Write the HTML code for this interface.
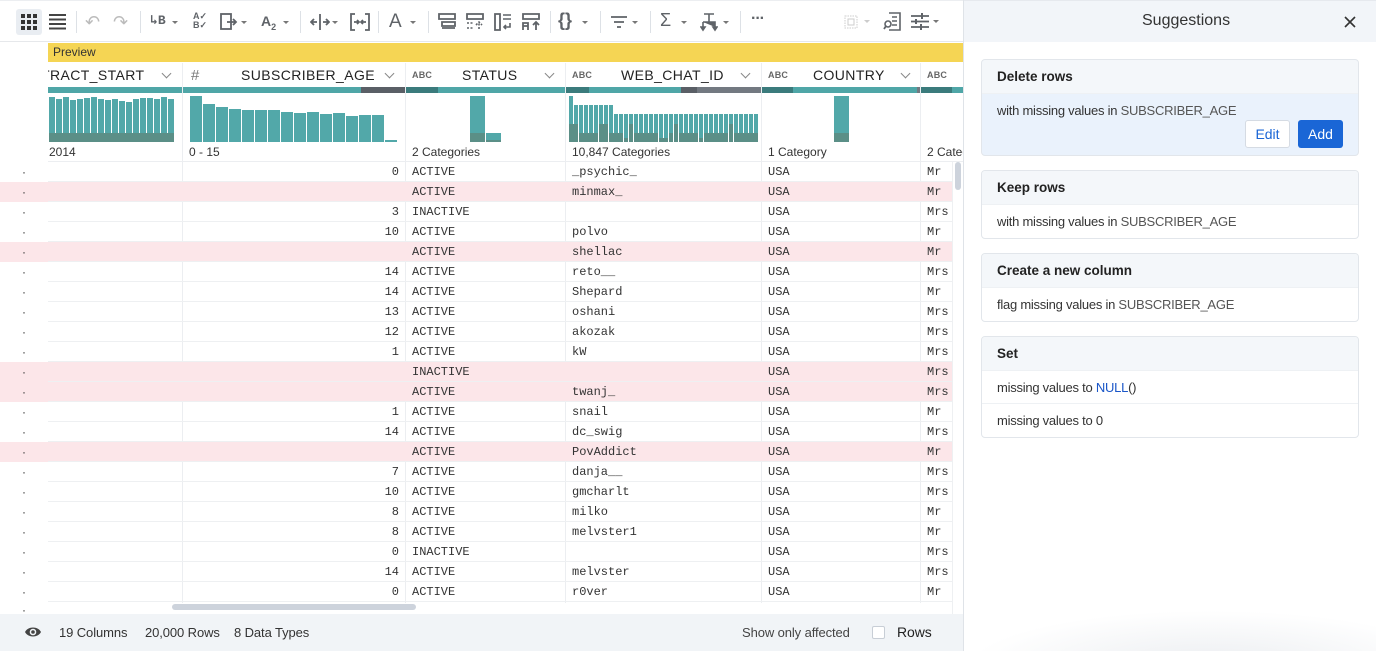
<!DOCTYPE html>
<html><head><meta charset="utf-8">
<style>
*{margin:0;padding:0;box-sizing:border-box}
body{width:1376px;height:651px;overflow:hidden;background:#fff;font-family:"Liberation Sans",sans-serif;position:relative;color:#222}
.a{position:absolute}
.ico{position:absolute;color:#5f6368;font-size:16px;line-height:16px}
.car{position:absolute;width:0;height:0;border-left:3px solid transparent;border-right:3px solid transparent;border-top:3px solid #777}
.sep{position:absolute;top:11px;width:1px;height:22px;background:#dde1e6}
.hdr{position:absolute;top:63px;height:24px;font-size:14px;line-height:24px;color:#222;white-space:nowrap;letter-spacing:0.4px}
.abc{position:absolute;top:70px;font-size:9px;font-weight:bold;color:#666;letter-spacing:0.2px}
.chev{position:absolute;top:70px;width:7px;height:7px;border-right:1.3px solid #888;border-bottom:1.3px solid #888;transform:rotate(45deg)}
.lbl{position:absolute;top:145px;font-size:12px;color:#333;white-space:nowrap}
.row{position:absolute;left:0;width:952px;height:20px}
.row::after{content:"";position:absolute;left:48px;right:0;bottom:0;height:1px;background:#eef0f2}
.row.p{background:#fce6e9}
.row span{position:absolute;top:0;line-height:20px;font-family:"Liberation Mono",monospace;font-size:12px;color:#333;white-space:nowrap}
.dot{left:22px;color:#777;font-family:"Liberation Sans",sans-serif!important}
.vl{position:absolute;top:63px;width:1px;height:540px;background:#eceef1}
.card{position:absolute;left:981px;width:378px;border:1px solid #e2e6eb;border-radius:4px;background:#fff;overflow:hidden}
.ch{height:34px;background:#f4f7fa;font-size:13.5px;font-weight:bold;color:#222;line-height:34px;padding-left:15px;border-bottom:1px solid #eef1f4}
.cb{height:33px;font-size:13px;letter-spacing:-0.25px;color:#333;line-height:33px;padding-left:15px}
.g{color:#555}
.ft{position:absolute;top:625px;font-size:13px;letter-spacing:-0.1px;color:#333;white-space:nowrap}
</style></head><body>

<!-- toolbar -->
<div class="a" style="left:0;top:0;width:963px;height:42px;background:#fff;border-bottom:1px solid #e6e8eb;border-top:1px solid #eceef1"></div>
<div class="a" style="left:16px;top:9px;width:26px;height:26px;background:#e9edf2;border-radius:3px"></div>
<svg class="a" style="left:21px;top:14px" width="16" height="16"><g fill="#333"><rect x="0" y="0" width="4" height="4"/><rect x="6" y="0" width="4" height="4"/><rect x="12" y="0" width="4" height="4"/><rect x="0" y="6" width="4" height="4"/><rect x="6" y="6" width="4" height="4"/><rect x="12" y="6" width="4" height="4"/><rect x="0" y="12" width="4" height="4"/><rect x="6" y="12" width="4" height="4"/><rect x="12" y="12" width="4" height="4"/></g></svg>
<svg class="a" style="left:49px;top:14px" width="17" height="16"><g fill="#444"><rect y="0" width="17" height="2"/><rect y="4.5" width="17" height="2"/><rect y="9" width="17" height="2"/><rect y="13.5" width="17" height="2"/></g></svg>
<div class="sep" style="left:76px"></div>
<div class="ico" style="left:85px;top:14px;color:#bbb;font-size:18px">&#8630;</div>
<div class="ico" style="left:113px;top:14px;color:#bbb;font-size:18px">&#8631;</div>
<div class="sep" style="left:140px"></div>
<div class="ico" style="left:150px;top:13px;font-size:13px;font-family:'Liberation Mono',monospace;font-weight:bold">&#8627;B</div><div class="car" style="left:172px;top:21px"></div>
<div class="ico" style="left:193px;top:12px;font-size:9px;line-height:9px;font-weight:bold">A&#10003;<br>B&#10003;</div>
<div class="ico" style="left:220px;top:13px"><svg width="18" height="18"><rect x="1" y="1" width="10" height="15" fill="none" stroke="#5f6368" stroke-width="1.8"/><path d="M7 9h9M13 6l3 3-3 3" fill="none" stroke="#5f6368" stroke-width="1.8"/></svg></div><div class="car" style="left:241px;top:21px"></div>
<div class="ico" style="left:261px;top:13px;font-size:14px;font-weight:bold">A<sub style="font-size:9px">2</sub></div><div class="car" style="left:283px;top:21px"></div>
<div class="sep" style="left:300px"></div>
<svg class="a" style="left:310px;top:13px" width="20" height="18"><path d="M10 1v16M1 9h6M13 9h6M4 6l-3 3 3 3M16 6l3 3-3 3" fill="none" stroke="#5f6368" stroke-width="1.8"/></svg><div class="car" style="left:332px;top:21px"></div>
<svg class="a" style="left:350px;top:13px" width="20" height="18"><path d="M5 1H1v16h4M15 1h4v16h-4M4 9h5M7 7l2 2-2 2M16 9h-5M13 7l-2 2 2 2" fill="none" stroke="#5f6368" stroke-width="1.8"/></svg>
<div class="sep" style="left:378px"></div>
<div class="ico" style="left:389px;top:12px;font-size:19px;line-height:19px">A</div><div class="car" style="left:410px;top:21px"></div>
<div class="sep" style="left:428px"></div>
<svg class="a" style="left:438px;top:13px" width="18" height="18"><path d="M1 1h16v5H1zM4 9h13v4H4zM4 15h13" fill="none" stroke="#5f6368" stroke-width="1.8"/></svg>
<svg class="a" style="left:466px;top:13px" width="18" height="18"><path d="M1 1h16v5H1z" fill="none" stroke="#5f6368" stroke-width="1.8"/><path d="M1 10h7M1 15h7M13 16V9M10 12l3-3 3 3" fill="none" stroke="#5f6368" stroke-width="1.6" stroke-dasharray="2 1.5"/></svg>
<svg class="a" style="left:494px;top:13px" width="18" height="18"><path d="M1 1h5v16H1z" fill="none" stroke="#5f6368" stroke-width="1.8"/><path d="M9 2h8M9 6h8M16 10v4h-6M12 12l-2 2 2 2" fill="none" stroke="#5f6368" stroke-width="1.6"/></svg>
<svg class="a" style="left:522px;top:13px" width="18" height="18"><path d="M1 1h16v5H1zM1 17v-7h5v7M1 13h5M14 17V9M11 12l3-3 3 3" fill="none" stroke="#5f6368" stroke-width="1.8"/></svg>
<div class="sep" style="left:550px"></div>
<div class="ico" style="left:558px;top:12px;font-size:18px;font-weight:bold">{}</div><div class="car" style="left:582px;top:21px"></div>
<div class="sep" style="left:600px"></div>
<svg class="a" style="left:610px;top:15px" width="18" height="14"><path d="M1 2h16M4 7h10M7 12h4" stroke="#5f6368" stroke-width="1.8"/></svg><div class="car" style="left:632px;top:21px"></div>
<div class="sep" style="left:650px"></div>
<div class="ico" style="left:660px;top:12px;font-size:18px">&#931;</div><div class="car" style="left:681px;top:21px"></div>
<svg class="a" style="left:700px;top:12px" width="18" height="20"><path d="M4 2h10M9 2v8M3 10h12v5M3 10v5M3 18l-2-3h4zM15 18l-2-3h4z" fill="#5f6368" stroke="#5f6368" stroke-width="1.6"/></svg><div class="car" style="left:723px;top:21px"></div>
<div class="sep" style="left:740px"></div>
<div class="ico" style="left:751px;top:11px;font-size:16px;font-weight:bold;letter-spacing:-1px">&middot;&middot;&middot;</div>
<svg class="a" style="left:844px;top:15px" width="14" height="14"><rect x="1" y="1" width="12" height="12" fill="none" stroke="#ccc" stroke-dasharray="1.5 1"/><rect x="4" y="4" width="6" height="6" fill="none" stroke="#ccc"/></svg><div class="car" style="left:864px;top:20px;border-top-color:#ccc"></div>
<svg class="a" style="left:883px;top:12px" width="18" height="19"><path d="M6 1h11v17H6M9 5h5M9 9h5M9 13h5" fill="none" stroke="#5f6368" stroke-width="1.6"/><circle cx="5" cy="12" r="3" fill="none" stroke="#5f6368" stroke-width="1.6"/><path d="M3 14l-2 3" stroke="#5f6368" stroke-width="1.8"/></svg>
<svg class="a" style="left:910px;top:13px" width="20" height="17"><path d="M1 3h18M1 8.5h18M1 14h18" stroke="#5f6368" stroke-width="1.8"/><path d="M12 0v6M6 6v5M11 11v6" stroke="#5f6368" stroke-width="2"/></svg><div class="car" style="left:933px;top:20px"></div>

<!-- preview bar -->
<div class="a" style="left:48px;top:43px;width:915px;height:19px;background:#f5d554;font-size:12px;line-height:19px;padding-left:5px;color:#333">Preview</div>

<!-- column dividers -->
<div class="vl" style="left:182px"></div>
<div class="vl" style="left:405px"></div>
<div class="vl" style="left:565px"></div>
<div class="vl" style="left:761px"></div>
<div class="vl" style="left:920px"></div>

<!-- headers -->
<div class="a" style="left:48px;top:63px;width:134px;height:24px;overflow:hidden"><div class="hdr" style="left:-7px;top:0">TRACT_START</div></div>
<div class="chev" style="left:163px"></div>
<div class="ico" style="left:191px;top:68px;font-size:15px;color:#777">#</div>
<div class="hdr" style="left:241px">SUBSCRIBER_AGE</div>
<div class="chev" style="left:386px"></div>
<div class="abc" style="left:412px">ABC</div>
<div class="hdr" style="left:462px">STATUS</div>
<div class="chev" style="left:546px"></div>
<div class="abc" style="left:572px">ABC</div>
<div class="hdr" style="left:621px">WEB_CHAT_ID</div>
<div class="chev" style="left:742px"></div>
<div class="abc" style="left:768px">ABC</div>
<div class="hdr" style="left:813px">COUNTRY</div>
<div class="chev" style="left:902px"></div>
<div class="abc" style="left:927px">ABC</div>

<!-- quality bars -->
<svg class="a" style="left:0;top:87px" width="963" height="7">
<rect x="48" y="0" width="134" height="6" fill="#4fa6a7"/>
<rect x="183" y="0" width="178" height="6" fill="#4fa6a7"/>
<rect x="361" y="0" width="44" height="6" fill="#5a5f66"/>
<rect x="406" y="0" width="32" height="6" fill="#3b7b7c"/>
<rect x="438" y="0" width="127" height="6" fill="#4fa6a7"/>
<rect x="566" y="0" width="23" height="6" fill="#3b7b7c"/>
<rect x="589" y="0" width="92" height="6" fill="#4fa6a7"/>
<rect x="681" y="0" width="16" height="6" fill="#5a5f66"/>
<rect x="697" y="0" width="64" height="6" fill="#737981"/>
<rect x="762" y="0" width="31" height="6" fill="#3b7b7c"/>
<rect x="793" y="0" width="124" height="6" fill="#4fa6a7"/>
<rect x="917" y="0" width="3" height="6" fill="#737981"/>
<rect x="921" y="0" width="31" height="6" fill="#3b7b7c"/>
<rect x="952" y="0" width="11" height="6" fill="#4fa6a7"/>
</svg>

<!-- histograms -->
<svg class="a" style="left:0;top:0" width="963" height="162">
<g fill="#52a8a9">
<rect x="49" y="97" width="6" height="45"/><rect x="56" y="99" width="6" height="43"/><rect x="63" y="97" width="6" height="45"/><rect x="70" y="100" width="6" height="42"/><rect x="77" y="99" width="6" height="43"/><rect x="84" y="98" width="6" height="44"/><rect x="91" y="97" width="6" height="45"/><rect x="98" y="99" width="6" height="43"/><rect x="105" y="100" width="6" height="42"/><rect x="112" y="99" width="6" height="43"/><rect x="119" y="101" width="6" height="41"/><rect x="126" y="102" width="6" height="40"/><rect x="133" y="99" width="6" height="43"/><rect x="140" y="98" width="6" height="44"/><rect x="147" y="98" width="6" height="44"/><rect x="154" y="99" width="6" height="43"/><rect x="161" y="97" width="6" height="45"/><rect x="168" y="99" width="6" height="43"/>
<rect x="190" y="96" width="12" height="46"/><rect x="203" y="104" width="12" height="38"/><rect x="216" y="107" width="12" height="35"/><rect x="229" y="109" width="12" height="33"/><rect x="242" y="110" width="12" height="32"/><rect x="255" y="110" width="12" height="32"/><rect x="268" y="110" width="12" height="32"/><rect x="281" y="112" width="12" height="30"/><rect x="294" y="113" width="12" height="29"/><rect x="307" y="112" width="12" height="30"/><rect x="320" y="114" width="12" height="28"/><rect x="333" y="113" width="12" height="29"/><rect x="346" y="116" width="12" height="26"/><rect x="359" y="115" width="12" height="27"/><rect x="372" y="115" width="12" height="27"/><rect x="385" y="140" width="12" height="2"/>
<rect x="470" y="96" width="15" height="46"/><rect x="486" y="133" width="15" height="9"/>
<rect x="834" y="96" width="15" height="46"/>
</g>
<g fill="#5b8f87">
<rect x="49" y="133" width="125" height="9"/>
<rect x="470" y="133" width="15" height="9"/><rect x="486" y="140" width="15" height="2"/>
<rect x="834" y="133" width="15" height="9"/>
</g>
<g fill="#52a8a9">
<rect x="569" y="96" width="4" height="46"/>
<rect x="574" y="105" width="4" height="37"/><rect x="579" y="105" width="4" height="37"/><rect x="584" y="105" width="4" height="37"/><rect x="589" y="105" width="4" height="37"/><rect x="594" y="105" width="4" height="37"/><rect x="599" y="105" width="4" height="37"/><rect x="604" y="105" width="4" height="37"/><rect x="609" y="105" width="4" height="37"/>
<rect x="614" y="114" width="4" height="28"/><rect x="619" y="114" width="4" height="28"/><rect x="624" y="114" width="4" height="28"/><rect x="629" y="114" width="4" height="28"/><rect x="634" y="114" width="4" height="28"/><rect x="639" y="114" width="4" height="28"/><rect x="644" y="114" width="4" height="28"/><rect x="649" y="114" width="4" height="28"/><rect x="654" y="114" width="4" height="28"/><rect x="659" y="114" width="4" height="28"/><rect x="664" y="114" width="4" height="28"/><rect x="669" y="114" width="4" height="28"/><rect x="674" y="114" width="4" height="28"/><rect x="679" y="114" width="4" height="28"/><rect x="684" y="114" width="4" height="28"/><rect x="689" y="114" width="4" height="28"/><rect x="694" y="114" width="4" height="28"/><rect x="699" y="114" width="4" height="28"/><rect x="704" y="114" width="4" height="28"/><rect x="709" y="114" width="4" height="28"/><rect x="714" y="114" width="4" height="28"/><rect x="719" y="114" width="4" height="28"/><rect x="724" y="114" width="4" height="28"/><rect x="729" y="114" width="4" height="28"/><rect x="734" y="114" width="4" height="28"/><rect x="739" y="114" width="4" height="28"/><rect x="744" y="114" width="4" height="28"/><rect x="749" y="114" width="4" height="28"/><rect x="754" y="114" width="4" height="28"/>
</g>
<g fill="#5b8f87">
<rect x="569" y="124" width="9" height="18"/><rect x="579" y="133" width="19" height="9"/><rect x="599" y="124" width="9" height="18"/><rect x="609" y="133" width="14" height="9"/><rect x="624" y="138" width="4" height="4"/><rect x="629" y="124" width="4" height="18"/><rect x="634" y="133" width="24" height="9"/><rect x="659" y="138" width="9" height="4"/><rect x="669" y="133" width="4" height="9"/><rect x="674" y="124" width="4" height="18"/><rect x="679" y="133" width="19" height="9"/><rect x="699" y="138" width="4" height="4"/><rect x="704" y="133" width="24" height="9"/><rect x="729" y="124" width="4" height="18"/><rect x="734" y="133" width="24" height="9"/>
</g>
<line x1="48" y1="161.5" x2="963" y2="161.5" stroke="#eceef1"/>
</svg>

<!-- histogram labels -->
<div class="lbl" style="left:49px">2014</div>
<div class="lbl" style="left:189px">0 - 15</div>
<div class="lbl" style="left:412px">2 Categories</div>
<div class="lbl" style="left:572px">10,847 Categories</div>
<div class="lbl" style="left:768px">1 Category</div>
<div class="a" style="left:921px;top:145px;width:42px;overflow:hidden;font-size:12px;color:#333;white-space:nowrap;padding-left:6px">2 Categories</div>

<!-- rows -->
<div class="a" style="left:0;top:162px;width:952px;height:452px;overflow:hidden">
<div class="row" style="top:0"><span class="dot">·</span><span style="right:553px">0</span><span style="left:412px">ACTIVE</span><span style="left:572px">_psychic_</span><span style="left:768px">USA</span><span style="left:927px">Mr</span></div>
<div class="row p" style="top:20px"><span class="dot">·</span><span style="left:412px">ACTIVE</span><span style="left:572px">minmax_</span><span style="left:768px">USA</span><span style="left:927px">Mr</span></div>
<div class="row" style="top:40px"><span class="dot">·</span><span style="right:553px">3</span><span style="left:412px">INACTIVE</span><span style="left:768px">USA</span><span style="left:927px">Mrs</span></div>
<div class="row" style="top:60px"><span class="dot">·</span><span style="right:553px">10</span><span style="left:412px">ACTIVE</span><span style="left:572px">polvo</span><span style="left:768px">USA</span><span style="left:927px">Mr</span></div>
<div class="row p" style="top:80px"><span class="dot">·</span><span style="left:412px">ACTIVE</span><span style="left:572px">shellac</span><span style="left:768px">USA</span><span style="left:927px">Mr</span></div>
<div class="row" style="top:100px"><span class="dot">·</span><span style="right:553px">14</span><span style="left:412px">ACTIVE</span><span style="left:572px">reto__</span><span style="left:768px">USA</span><span style="left:927px">Mrs</span></div>
<div class="row" style="top:120px"><span class="dot">·</span><span style="right:553px">14</span><span style="left:412px">ACTIVE</span><span style="left:572px">Shepard</span><span style="left:768px">USA</span><span style="left:927px">Mr</span></div>
<div class="row" style="top:140px"><span class="dot">·</span><span style="right:553px">13</span><span style="left:412px">ACTIVE</span><span style="left:572px">oshani</span><span style="left:768px">USA</span><span style="left:927px">Mrs</span></div>
<div class="row" style="top:160px"><span class="dot">·</span><span style="right:553px">12</span><span style="left:412px">ACTIVE</span><span style="left:572px">akozak</span><span style="left:768px">USA</span><span style="left:927px">Mrs</span></div>
<div class="row" style="top:180px"><span class="dot">·</span><span style="right:553px">1</span><span style="left:412px">ACTIVE</span><span style="left:572px">kW</span><span style="left:768px">USA</span><span style="left:927px">Mrs</span></div>
<div class="row p" style="top:200px"><span class="dot">·</span><span style="left:412px">INACTIVE</span><span style="left:768px">USA</span><span style="left:927px">Mrs</span></div>
<div class="row p" style="top:220px"><span class="dot">·</span><span style="left:412px">ACTIVE</span><span style="left:572px">twanj_</span><span style="left:768px">USA</span><span style="left:927px">Mrs</span></div>
<div class="row" style="top:240px"><span class="dot">·</span><span style="right:553px">1</span><span style="left:412px">ACTIVE</span><span style="left:572px">snail</span><span style="left:768px">USA</span><span style="left:927px">Mr</span></div>
<div class="row" style="top:260px"><span class="dot">·</span><span style="right:553px">14</span><span style="left:412px">ACTIVE</span><span style="left:572px">dc_swig</span><span style="left:768px">USA</span><span style="left:927px">Mrs</span></div>
<div class="row p" style="top:280px"><span class="dot">·</span><span style="left:412px">ACTIVE</span><span style="left:572px">PovAddict</span><span style="left:768px">USA</span><span style="left:927px">Mr</span></div>
<div class="row" style="top:300px"><span class="dot">·</span><span style="right:553px">7</span><span style="left:412px">ACTIVE</span><span style="left:572px">danja__</span><span style="left:768px">USA</span><span style="left:927px">Mrs</span></div>
<div class="row" style="top:320px"><span class="dot">·</span><span style="right:553px">10</span><span style="left:412px">ACTIVE</span><span style="left:572px">gmcharlt</span><span style="left:768px">USA</span><span style="left:927px">Mrs</span></div>
<div class="row" style="top:340px"><span class="dot">·</span><span style="right:553px">8</span><span style="left:412px">ACTIVE</span><span style="left:572px">milko</span><span style="left:768px">USA</span><span style="left:927px">Mr</span></div>
<div class="row" style="top:360px"><span class="dot">·</span><span style="right:553px">8</span><span style="left:412px">ACTIVE</span><span style="left:572px">melvster1</span><span style="left:768px">USA</span><span style="left:927px">Mr</span></div>
<div class="row" style="top:380px"><span class="dot">·</span><span style="right:553px">0</span><span style="left:412px">INACTIVE</span><span style="left:768px">USA</span><span style="left:927px">Mrs</span></div>
<div class="row" style="top:400px"><span class="dot">·</span><span style="right:553px">14</span><span style="left:412px">ACTIVE</span><span style="left:572px">melvster</span><span style="left:768px">USA</span><span style="left:927px">Mrs</span></div>
<div class="row" style="top:420px"><span class="dot">·</span><span style="right:553px">0</span><span style="left:412px">ACTIVE</span><span style="left:572px">r0ver</span><span style="left:768px">USA</span><span style="left:927px">Mr</span></div>
<div class="row" style="top:440px"><span class="dot" style="top:-2px">·</span></div>
</div>
<div class="a" style="left:48px;top:603px;width:904px;height:11px;background:#fff"></div>
<div class="a" style="left:172px;top:604px;width:244px;height:6px;background:#cdd3dc;border-radius:3px"></div>
<!-- vertical scrollbar -->
<div class="a" style="left:952px;top:162px;width:11px;height:452px;background:#fff;border-left:1px solid #eef0f2"></div>
<div class="a" style="left:955px;top:162px;width:6px;height:28px;background:#cdd3dc;border-radius:3px"></div>

<!-- footer -->
<div class="a" style="left:0;top:614px;width:963px;height:37px;background:#f1f4f7"></div>
<svg class="a" style="left:24px;top:625px" width="18" height="14"><path d="M1 7C4 1 14 1 17 7C14 13 4 13 1 7z" fill="#444"/><circle cx="9" cy="7" r="3.3" fill="#f1f4f7"/><circle cx="9" cy="7" r="1.8" fill="#444"/></svg>
<div class="ft" style="left:59px">19 Columns</div>
<div class="ft" style="left:145px">20,000 Rows</div>
<div class="ft" style="left:234px">8 Data Types</div>
<div class="ft" style="left:742px;color:#444">Show only affected</div>
<div class="a" style="left:872px;top:626px;width:13px;height:13px;border:1px solid #c8ced6;border-radius:2px;background:#fff"></div>
<div class="ft" style="left:897px;color:#222;font-size:14px;top:624px">Rows</div>

<!-- right panel -->
<div class="a" style="left:963px;top:0;width:1px;height:651px;background:#dfe3e8"></div>
<div class="a" style="left:964px;top:0;width:412px;height:42px;background:#f2f5f9;border-top:1px solid #e6e9ee"></div>
<div class="a" style="left:1142px;top:12px;font-size:16px;color:#333">Suggestions</div>
<svg class="a" style="left:1344px;top:16px" width="12" height="12"><path d="M1 1l10 10M11 1L1 11" stroke="#333" stroke-width="1.6"/></svg>

<div class="card" style="top:59px;height:97px;background:#eaf2fc">
<div class="ch">Delete rows</div>
<div class="cb" style="background:#eaf2fc">with missing values in <span class="g">SUBSCRIBER_AGE</span></div>
</div>
<div class="a" style="left:1245px;top:120px;width:45px;height:28px;background:#fff;border:1px solid #d5dbe3;border-radius:3px;font-size:14px;color:#1a66d6;text-align:center;line-height:26px">Edit</div>
<div class="a" style="left:1298px;top:120px;width:45px;height:28px;background:#1a66d6;border-radius:3px;font-size:14px;color:#fff;text-align:center;line-height:28px">Add</div>

<div class="card" style="top:170px;height:69px">
<div class="ch">Keep rows</div>
<div class="cb">with missing values in <span class="g">SUBSCRIBER_AGE</span></div>
</div>
<div class="card" style="top:253px;height:69px">
<div class="ch">Create a new column</div>
<div class="cb">flag missing values in <span class="g">SUBSCRIBER_AGE</span></div>
</div>
<div class="card" style="top:336px;height:102px">
<div class="ch">Set</div>
<div class="cb" style="border-bottom:1px solid #eef1f4">missing values to <span style="color:#1a56c8">NULL</span>()</div>
<div class="cb">missing values to 0</div>
</div>
<div class="a" style="left:964px;top:610px;width:412px;height:41px;background:radial-gradient(ellipse at 60% 140%,rgba(230,233,237,0.8),rgba(255,255,255,0) 70%)"></div>

</body></html>
